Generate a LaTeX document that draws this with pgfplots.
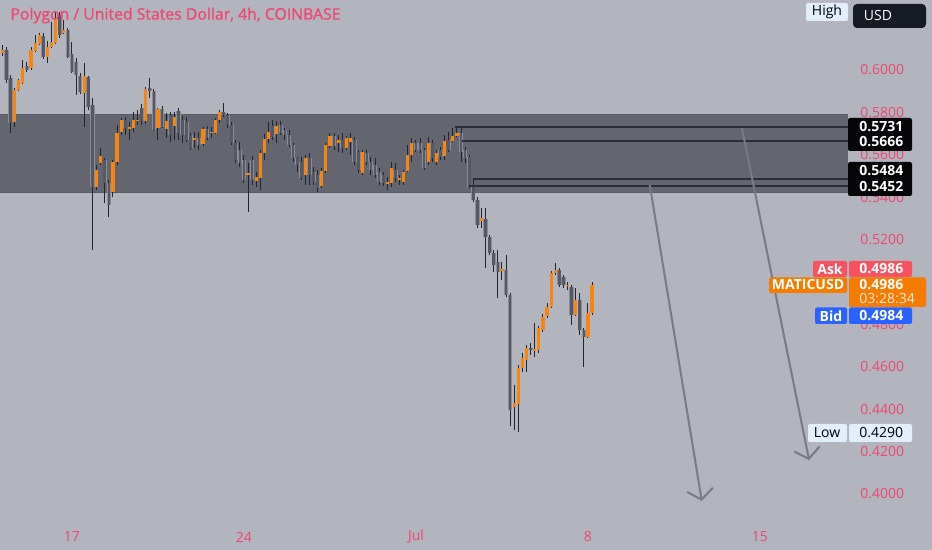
\documentclass[border=0pt]{standalone}
\usepackage{pgfplots}
\pgfplotsset{compat=1.18}
\usepackage{pgfplotstable}
\usetikzlibrary{arrows.meta}
\usepackage{fontspec}
\setmainfont{Open Sans}
\newfontfamily\semib{Open Sans}[FakeBold=0.8]
\definecolor{bgc}{HTML}{B2B5BE}
\definecolor{zonec}{HTML}{63656F}
\definecolor{zoneedge}{HTML}{5A5C66}
\definecolor{pinkc}{HTML}{F0466F}
\definecolor{wickc}{HTML}{22252D}
\definecolor{downc}{HTML}{565964}
\definecolor{downedge}{HTML}{8A8D97}
\definecolor{upc}{HTML}{F7850F}
\definecolor{linec}{HTML}{2A2E39}
\definecolor{arrowc}{HTML}{787B86}
\definecolor{blkc}{HTML}{050507}
\definecolor{usdc}{HTML}{161A25}
\definecolor{hic}{HTML}{E3EEFB}
\definecolor{askc}{HTML}{F7525F}
\definecolor{bidc}{HTML}{2962FF}
\definecolor{orc}{HTML}{F57C00}
\newcommand\tf{\fontsize{7}{8}\selectfont}

\pgfplotstableread{
n o h l c
-17 .6080 .6118 .6066 .6094
-14 .5754 .5915 .5731 .5905
-13 .5905 .5957 .5901 .5953
-12 .5938 .6047 .5934 .6009
-10 .6009 .6108 .6000 .6094
-9 .6089 .6165 .6085 .6127
-8 .6122 .6174 .6118 .6165
-6 .6061 .6137 .6033 .6108
-5 .6108 .6226 .6104 .6132
-4 .6127 .6273 .6122 .6245
-2 .6174 .6236 .6170 .6188
3 .5891 .6033 .5731 .5972
6 .5448 .5552 .5434 .5528
7 .5561 .5632 .5552 .5594
10 .5424 .5575 .5401 .5566
11 .5566 .5740 .5552 .5703
12 .5707 .5773 .5693 .5764
14 .5722 .5754 .5670 .5731
15 .5726 .5802 .5707 .5764
16 .5759 .5811 .5740 .5766
18 .5759 .5920 .5745 .5910
21 .5726 .5821 .5670 .5816
23 .5722 .5797 .5679 .5759
25 .5736 .5802 .5670 .5778
30 .5670 .5707 .5632 .5679
32 .5651 .5731 .5641 .5722
34 .5703 .5731 .5679 .5709
35 .5703 .5773 .5698 .5764
36 .5764 .5811 .5750 .5802
43 .5505 .5561 .5330 .5514
45 .5476 .5519 .5448 .5495
46 .5490 .5622 .5434 .5608
47 .5608 .5698 .5575 .5674
48 .5674 .5754 .5655 .5707
50 .5698 .5759 .5655 .5736
57 .5505 .5599 .5457 .5585
61 .5453 .5538 .5443 .5523
62 .5523 .5655 .5514 .5646
63 .5641 .5703 .5632 .5688
65 .5655 .5693 .5613 .5670
67 .5632 .5688 .5622 .5679
68 .5660 .5703 .5599 .5679
71 .5514 .5622 .5505 .5613
77 .5462 .5495 .5434 .5472
78 .5467 .5566 .5448 .5538
80 .5481 .5505 .5457 .5490
81 .5472 .5528 .5457 .5519
82 .5523 .5646 .5519 .5599
83 .5599 .5679 .5566 .5655
87 .5566 .5684 .5552 .5655
89 .5566 .5622 .5552 .5608
91 .5594 .5693 .5575 .5665
93 .5665 .5726 .5660 .5688
94 .5688 .5726 .5684 .5703
100 .5288 .5349 .5255 .5302
105 .5052 .5094 .5009 .5061
108 .4410 .4514 .4302 .4429
109 .4424 .4608 .4292 .4594
110 .4594 .4665 .4575 .4641
111 .4632 .4703 .4575 .4688
113 .4674 .4806 .4646 .4684
114 .4679 .4792 .4665 .4783
115 .4773 .4849 .4764 .4835
116 .4839 .4901 .4830 .4882
117 .4882 .5052 .4877 .5042
118 .5042 .5089 .5033 .5056
121 .4981 .5000 .4962 .4986
123 .4844 .4972 .4839 .4915
126 .4740 .4901 .4736 .4854
127 .4854 .5000 .4844 .4986
}\upData

\pgfplotstableread{
n o h l c
-16 .6094 .6108 .5938 .5953
-15 .5962 .5976 .5703 .5750
-11 .6019 .6038 .5990 .6000
-7 .6160 .6174 .6052 .6061
-3 .6259 .6273 .6151 .6165
-1 .6188 .6198 .6056 .6061
0 .6075 .6132 .5986 .5990
1 .6038 .6056 .5882 .5976
2 .5972 .5986 .5887 .5896
4 .5967 .5972 .5811 .5825
5 .5835 .5868 .5151 .5448
8 .5575 .5585 .5372 .5467
9 .5467 .5481 .5306 .5363
13 .5764 .5778 .5693 .5726
17 .5821 .5839 .5740 .5759
19 .5915 .5962 .5868 .5901
20 .5901 .5910 .5712 .5717
22 .5816 .5830 .5726 .5731
24 .5788 .5802 .5660 .5693
26 .5806 .5821 .5670 .5703
27 .5764 .5783 .5655 .5693
28 .5754 .5778 .5660 .5670
29 .5693 .5703 .5622 .5632
31 .5679 .5707 .5622 .5646
33 .5722 .5736 .5670 .5679
37 .5802 .5844 .5778 .5788
38 .5788 .5797 .5726 .5740
39 .5740 .5754 .5646 .5655
40 .5655 .5670 .5561 .5575
41 .5622 .5660 .5542 .5561
42 .5575 .5599 .5467 .5481
44 .5575 .5594 .5457 .5481
49 .5736 .5764 .5670 .5684
51 .5740 .5759 .5693 .5703
52 .5717 .5726 .5670 .5693
53 .5693 .5717 .5637 .5646
54 .5646 .5655 .5566 .5585
55 .5585 .5589 .5519 .5552
56 .5566 .5589 .5481 .5490
58 .5585 .5608 .5457 .5505
59 .5519 .5542 .5457 .5472
60 .5505 .5528 .5424 .5443
64 .5688 .5703 .5622 .5641
66 .5670 .5703 .5608 .5632
69 .5670 .5684 .5552 .5566
70 .5613 .5622 .5514 .5528
72 .5608 .5622 .5552 .5566
73 .5566 .5589 .5505 .5528
74 .5552 .5585 .5490 .5505
75 .5519 .5538 .5457 .5472
76 .5505 .5519 .5453 .5467
79 .5528 .5561 .5472 .5490
84 .5655 .5670 .5613 .5622
85 .5655 .5679 .5608 .5622
86 .5622 .5632 .5528 .5538
88 .5655 .5670 .5566 .5585
90 .5622 .5637 .5575 .5589
92 .5670 .5707 .5613 .5622
95 .5703 .5731 .5566 .5613
96 .5622 .5637 .5561 .5585
97 .5589 .5599 .5443 .5448
98 .5457 .5481 .5377 .5387
99 .5387 .5401 .5255 .5269
101 .5297 .5349 .5066 .5212
102 .5212 .5221 .5127 .5137
103 .5137 .5151 .5047 .5080
104 .5094 .5151 .4924 .5047
106 .5056 .5127 .4929 .4939
107 .4939 .4948 .4321 .4396
112 .4688 .4712 .4655 .4679
119 .5056 .5066 .4976 .4986
120 .5023 .5033 .4972 .4986
122 .4976 .4986 .4797 .4844
124 .4915 .4948 .4750 .4773
125 .4773 .4783 .4599 .4740
}\downData

\begin{document}
\begin{tikzpicture}
\useasboundingbox (0,0) rectangle (466pt,275pt);
\fill[bgc] (0,0) rectangle (466pt,275pt);
\begin{axis}[
  at={(0,12.5pt)}, anchor=south west,
  width=424pt, height=262.5pt, scale only axis,
  xmin=-17.58, xmax=189.5, ymin=0.38536, ymax=0.633,
  clip=false,
  axis line style={draw=none},
  major tick length=0pt,
  tick style={draw=none},
  xtick={0,42,84,126,168},
  xticklabels={17,24,Jul,8,15},
  ytick={0.40,0.42,0.44,0.46,0.48,0.50,0.52,0.54,0.56,0.58,0.60},
  scaled y ticks=false,
  yticklabel pos=right,
  ticklabel style={font=\tf, text=pinkc},
  y tick label style={/pgf/number format/fixed, /pgf/number format/fixed zerofill,
    /pgf/number format/precision=4, /pgf/number format/assume math mode=true,
    anchor=west, inner sep=0pt, xshift=6pt},
  x tick label style={anchor=center, inner sep=0pt, yshift=-6pt},
]
% zone
\addplot[fill=zonec, draw=none, forget plot] coordinates {(-17.58,0.5420) (189.5,0.5420) (189.5,0.5788) (-17.58,0.5788)};
\addplot[zoneedge, line width=0.5pt, forget plot] coordinates {(-17.58,0.5788) (189.5,0.5788)};
\addplot[zoneedge, line width=0.5pt, forget plot] coordinates {(-17.58,0.5420) (189.5,0.5420)};
% down-candle light edges
\addplot[draw=none, mark=none, forget plot, error bars/.cd, y dir=plus, y explicit, error mark=none,
  error bar style={draw=downedge, line width=2.1pt}]
  table[x=n, y=c, y error plus expr=\thisrow{o}-\thisrow{c}] {\downData};
% wicks
\addplot[draw=none, mark=none, forget plot, error bars/.cd, y dir=plus, y explicit, error mark=none,
  error bar style={draw=wickc, line width=0.5pt}]
  table[x=n, y=l, y error plus expr=\thisrow{h}-\thisrow{l}] {\upData};
\addplot[draw=none, mark=none, forget plot, error bars/.cd, y dir=plus, y explicit, error mark=none,
  error bar style={draw=wickc, line width=0.5pt}]
  table[x=n, y=l, y error plus expr=\thisrow{h}-\thisrow{l}] {\downData};
% bodies
\addplot[draw=none, mark=none, forget plot, error bars/.cd, y dir=plus, y explicit, error mark=none,
  error bar style={draw=upc, line width=1.6pt}]
  table[x=n, y=o, y error plus expr=\thisrow{c}-\thisrow{o}] {\upData};
\addplot[draw=none, mark=none, forget plot, error bars/.cd, y dir=plus, y explicit, error mark=none,
  error bar style={draw=downc, line width=1.3pt}]
  table[x=n, y=c, y error plus expr=\thisrow{o}-\thisrow{c}] {\downData};
% horizontal levels
\addplot[linec, line width=1pt, forget plot] coordinates {(93.5,0.5731) (189.5,0.5731)};
\addplot[linec, line width=1pt, forget plot] coordinates {(95.2,0.5666) (189.5,0.5666)};
\addplot[linec, line width=1pt, forget plot] coordinates {(97.9,0.5484) (189.5,0.5484)};
\addplot[linec, line width=1pt, forget plot] coordinates {(96.9,0.5452) (189.5,0.5452)};
% arrows
\addplot[arrowc, line width=1pt, -{Straight Barb[length=5pt,width=13pt,line width=1pt]}, forget plot] coordinates {(141.1,0.5457) (153.8,0.3967)};
\addplot[arrowc, line width=1pt, -{Straight Barb[length=5pt,width=13pt,line width=1pt]}, forget plot] coordinates {(163.6,0.5726) (180.0,0.4160)};
\end{axis}
\begin{scope}[shift={(0,275pt)}, x=0.5pt, y=-0.5pt, font=\tf]
\node[anchor=west, inner sep=0pt, text=pinkc, font=\semib\fontsize{7.9}{9}\selectfont] at (10,15.5) {Polygon / United States Dollar, 4h, COINBASE};
% High / USD
\fill[hic, rounded corners=1pt] (806,3) rectangle (848,21);
\node[inner sep=0pt, text=black] at (827,12) {High};
\fill[usdc, rounded corners=2pt] (853,4) rectangle (926,28);
\node[inner sep=0pt, text=white] at (878,16) {USD};
% level boxes
\fill[blkc, rounded corners=1pt] (848,118) rectangle (912,151);
\fill[blkc, rounded corners=1pt] (848,162) rectangle (912,196);
\node[anchor=west, inner sep=0pt, text=white, font=\tf\bfseries] at (859,126.5) {0.5731};
\node[anchor=west, inner sep=0pt, text=white, font=\tf\bfseries] at (859,142) {0.5666};
\node[anchor=west, inner sep=0pt, text=white, font=\tf\bfseries] at (859,170.5) {0.5484};
\node[anchor=west, inner sep=0pt, text=white, font=\tf\bfseries] at (859,187) {0.5452};
% Ask
\fill[askc, rounded corners=1pt] (813,261) rectangle (847,277);
\fill[askc, rounded corners=1pt] (849,261) rectangle (912,277);
\node[inner sep=0pt, text=white, font=\tf\bfseries] at (830,269) {Ask};
\node[anchor=west, inner sep=0pt, text=white, font=\tf\bfseries] at (859,269) {0.4986};
% MATICUSD
\fill[orc, rounded corners=1pt] (769,277.5) rectangle (847,293);
\fill[orc, rounded corners=1pt] (849,277.5) rectangle (926,307);
\node[inner sep=0pt, text=white, font=\tf\bfseries] at (808,285) {MATICUSD};
\node[anchor=west, inner sep=0pt, text=white, font=\tf\bfseries] at (859,285) {0.4986};
\node[anchor=west, inner sep=0pt, text=white!85!orc, font=\tf] at (859,299) {03:28:34};
% Bid
\fill[bidc, rounded corners=1pt] (815,307.5) rectangle (847,324);
\fill[bidc, rounded corners=1pt] (849,307.5) rectangle (912,324);
\node[inner sep=0pt, text=white, font=\tf\bfseries] at (831,316) {Bid};
\node[anchor=west, inner sep=0pt, text=white, font=\tf\bfseries] at (859,316) {0.4984};
% Low
\fill[hic, rounded corners=1pt] (808,424) rectangle (847,442);
\fill[hic, rounded corners=1pt] (849,424) rectangle (912,442);
\node[inner sep=0pt, text=black] at (827,433) {Low};
\node[anchor=west, inner sep=0pt, text=black] at (859,433) {0.4290};
\end{scope}
\end{tikzpicture}
\end{document}
